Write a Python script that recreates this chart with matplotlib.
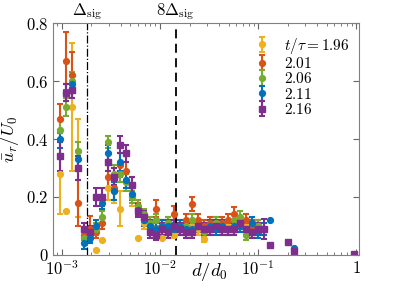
import matplotlib
matplotlib.use("Agg")
import matplotlib.pyplot as plt
import numpy as np

nan = np.nan

# bin centres d/d0
d = [0.000954, 0.00110, 0.00126, 0.00146, 0.00168, 0.00193, 0.00222, 0.00256,
     0.00295, 0.00339, 0.00390, 0.00449, 0.00518, 0.00596, 0.00686, 0.00790,
     0.00909, 0.01047, 0.01205, 0.01387, 0.01597, 0.01838, 0.0212, 0.0244,
     0.0281, 0.0323, 0.0372, 0.0428, 0.0493, 0.0567, 0.0653, 0.0752,
     0.0865, 0.0996, 0.1147, 0.132]

labels = ["$t/\\tau = 1.96$", "$2.01$", "$2.06$", "$2.11$", "$2.16$"]

u_196 = [0.28, 0.15, 0.51, 0.30, nan, nan, 0.017, 0.05, 0.23, 0.22, 0.16, 0.26,
         0.20, 0.06, 0.11, 0.10, 0.09, 0.06, 0.09, 0.07, 0.09, 0.09, 0.10, 0.09,
         0.055, 0.09, 0.10, 0.09, 0.10, 0.10, 0.10, 0.10, 0.10, 0.10, nan, nan]
e_196 = [0.14, 0, 0.22, 0.17, nan, nan, 0, 0, 0.04, 0.04, 0.06, 0.03,
         0.03, 0, 0.02, 0.02, 0.02, 0, 0.02, 0.01, 0.02, 0.02, 0.02, 0.02,
         0.01, 0.02, 0.02, 0.02, 0.02, 0.02, 0.02, 0.02, 0.02, 0.02, nan, nan]

u_201 = [0.47, 0.67, 0.62, 0.18, 0.07, 0.09, 0.08, 0.11, 0.27, 0.23, 0.31, 0.29,
         0.24, 0.16, 0.12, 0.11, 0.16, 0.10, 0.11, 0.14, 0.10, 0.12, 0.175, 0.12,
         0.10, 0.11, 0.11, 0.11, 0.12, 0.14, 0.11, 0.12, 0.10, 0.10, nan, nan]
e_201 = [0.05, 0.10, 0.08, 0.08, 0.02, 0.045, 0.02, 0.02, 0.04, 0.04, 0.04, 0.03,
         0.03, 0.02, 0.02, 0.02, 0.03, 0.02, 0.02, 0.03, 0.02, 0.02, 0.025, 0.02,
         0.02, 0.02, 0.02, 0.02, 0.02, 0.025, 0.02, 0.02, 0.02, 0.02, nan, nan]

u_206 = [0.43, 0.51, 0.60, 0.36, 0.06, 0.07, 0.09, 0.13, 0.39, 0.28, 0.28, 0.25,
         0.20, 0.17, 0.14, 0.11, 0.12, 0.10, 0.11, 0.10, 0.09, 0.10, 0.12, 0.10,
         0.08, 0.10, 0.11, 0.10, 0.09, 0.12, 0.13, 0.07, 0.08, 0.10, nan, nan]
e_206 = [0.04, 0.03, 0.03, 0.03, 0.02, 0.02, 0.02, 0.02, 0.02, 0.03, 0.03, 0.03,
         0.02, 0.02, 0.02, 0.02, 0.02, 0.02, 0.02, 0.02, 0.02, 0.02, 0.02, 0.02,
         0.02, 0.02, 0.02, 0.02, 0.02, 0.02, 0.02, 0.02, 0.02, 0.02, nan, nan]

u_211 = [0.40, 0.56, 0.59, 0.33, 0.04, 0.06, 0.10, 0.18, 0.35, 0.22, 0.32, 0.26,
         0.21, 0.155, 0.12, 0.10, 0.09, 0.10, 0.10, 0.09, 0.10, 0.09, 0.09, 0.10,
         0.09, 0.10, 0.09, 0.10, 0.09, 0.10, 0.10, 0.09, 0.11, 0.08, 0.09, 0.12]
e_211 = [0.03, 0.03, 0.03, 0.03, 0.02, 0.02, 0.02, 0.02, 0.03, 0.03, 0.03, 0.03,
         0.02, 0.02, 0.02, 0.02, 0.02, 0.02, 0.02, 0.02, 0.02, 0.02, 0.02, 0.02,
         0.02, 0.02, 0.02, 0.02, 0.02, 0.02, 0.02, 0.02, 0.02, 0.02, 0.02, 0]

u_216 = [0.34, 0.56, 0.57, 0.30, 0.09, 0.08, 0.20, 0.20, 0.32, 0.27, 0.38, 0.35,
         0.24, 0.15, 0.13, 0.08, 0.07, 0.09, 0.08, 0.10, 0.09, 0.08, 0.08, 0.10,
         0.09, 0.09, 0.10, 0.09, 0.09, 0.09, 0.11, 0.09, 0.08, 0.09, 0.09, 0.034]
e_216 = [0.05, 0.03, 0.03, 0.04, 0.02, 0.02, 0.03, 0.03, 0.03, 0.03, 0.03, 0.03,
         0.03, 0.02, 0.02, 0.02, 0.02, 0.02, 0.02, 0.02, 0.02, 0.02, 0.02, 0.02,
         0.02, 0.02, 0.02, 0.02, 0.02, 0.02, 0.02, 0.02, 0.02, 0.02, 0.035, 0]

# sparse far-field points
d_far_211 = [0.233]
u_far_211 = [0.024]
d_far_216 = [0.202, 0.233, 0.955]
u_far_216 = [0.045, 0.014, 0.003]

delta_sig = 1.8e-3

plt.rcParams['mathtext.fontset'] = 'cm'
plt.rcParams['font.family'] = 'serif'
plt.rcParams['font.serif'] = ['DejaVu Serif']
plt.rcParams['font.size'] = 10

colors = ['#EDB120', '#D95319', '#77AC30', '#0072BD', '#7E2F8E']
markers = ['o', 'o', 'o', 'o', 's']

fig = plt.figure(figsize=(3.99, 2.89), dpi=100)
ax = fig.add_axes([0.133, 0.118, 0.767, 0.802])

series = [(u_196, e_196), (u_201, e_201), (u_206, e_206), (u_211, e_211), (u_216, e_216)]
for (u, e), c, m, lab in zip(series, colors, markers, labels):
    ax.errorbar(d, u, yerr=e, fmt=m, color=c, ms=4.2, elinewidth=1.5,
                capsize=2.5, capthick=1.5, label=lab)

ax.plot(d_far_211, u_far_211, 'o', color=colors[3], ms=4.2)
ax.plot(d_far_216, u_far_216, 's', color=colors[4], ms=4.2)

ax.axvline(delta_sig, color='k', ls='-.', lw=0.9)
ax.axvline(8 * delta_sig, color='k', ls=(0, (5, 3)), lw=1.3)

ax.text(delta_sig, 0.805, '$\\Delta_{\\rm sig}$', ha='center', va='bottom', fontsize=12)
ax.text(8 * delta_sig, 0.805, '$8\\Delta_{\\rm sig}$', ha='center', va='bottom', fontsize=12)

ax.set_xscale('log')
ax.set_xlim(10 ** -3.09, 10 ** 0.03)
ax.set_ylim(0, 0.8)
ax.set_xticks([1e-3, 1e-2, 1e-1, 1])
ax.set_xticklabels(['$10^{-3}$', '$10^{-2}$', '$10^{-1}$', '$1$'])
ax.set_yticks([0, 0.2, 0.4, 0.6, 0.8])
ax.set_yticklabels(['$0$', '$0.2$', '$0.4$', '$0.6$', '$0.8$'])
ax.tick_params(which='both', direction='in', top=True, right=True, color='0.4',
               labelsize=12)
ax.tick_params(axis='x', pad=4)
ax.tick_params(axis='y', pad=3)
ax.tick_params(which='major', length=4)
ax.tick_params(which='minor', length=2)
for s in ax.spines.values():
    s.set_color('0.5')

ax.set_xlabel('$d/d_0$', fontsize=13.5)
ax.xaxis.set_label_coords(0.51, -0.025)
ax.set_ylabel('$\\bar{u}_r/U_0$', fontsize=13)
ax.yaxis.set_label_coords(-0.105, 0.5)

ax.legend(loc='upper right', bbox_to_anchor=(1.0, 0.985), frameon=False,
          fontsize=11, handlelength=0.9, handletextpad=1.0, labelspacing=0.02,
          borderaxespad=0.2)

fig.savefig('out.png', dpi=100)
